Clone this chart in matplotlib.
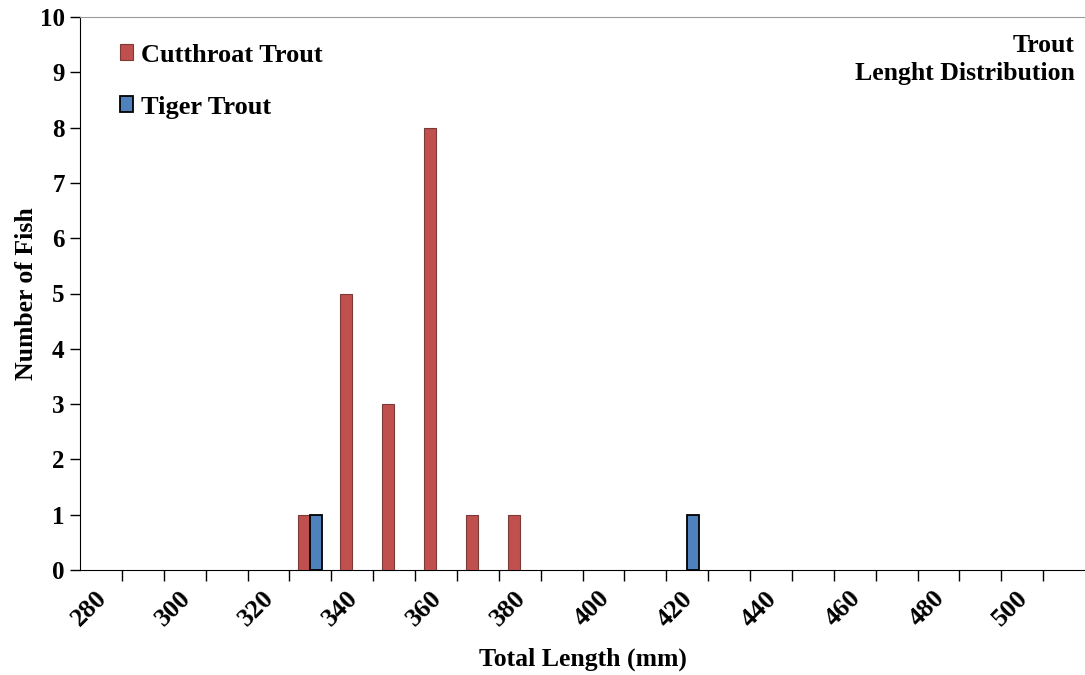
import matplotlib
matplotlib.use("Agg")
import matplotlib.pyplot as plt
import matplotlib.transforms as mtransforms
import numpy as np

categories = list(range(280, 520, 10))
cutthroat = [0, 0, 0, 0, 0, 1, 5, 3, 8, 1, 1, 0, 0, 0, 0, 0, 0, 0, 0, 0, 0, 0, 0, 0]
tiger     = [0, 0, 0, 0, 0, 1, 0, 0, 0, 0, 0, 0, 0, 0, 1, 0, 0, 0, 0, 0, 0, 0, 0, 0]
tick_labels = [str(c) if (c - 280) % 20 == 0 else "" for c in categories]

plt.rcParams['font.family'] = ['Liberation Serif', 'DejaVu Serif']
plt.rcParams['font.weight'] = 'bold'

fig = plt.figure(figsize=(10.85, 6.75), dpi=100)
ax = fig.add_axes([80/1085, 1 - 570/675, 1005/1085, (570-17)/675])

x = np.arange(len(categories)) + 0.5
w = 0.286
c = np.array(cutthroat)
t = np.array(tiger)
mc = c > 0
mt = t > 0
ax.bar((x - w/2)[mc], c[mc], width=w, color='#C0504D', edgecolor='#7a3a38', linewidth=0.8,
       label='Cutthroat Trout', zorder=3)
ax.bar((x + w/2)[mt], t[mt], width=w, color='#4F81BD', edgecolor='black', linewidth=1.3,
       label='Tiger Trout', zorder=3)

ax.set_xlim(0, len(categories))
ax.set_ylim(0, 10)
ax.set_yticks(range(0, 11))
ax.tick_params(axis='y', labelsize=18, length=7, width=1, direction='out', pad=4)

ax.set_xticks(np.arange(1, len(categories)))
ax.set_xticklabels([])
ax.tick_params(axis='x', which='major', length=8, width=1, direction='out')
ax.set_xticks(x, minor=True)
ax.set_xticklabels(tick_labels, minor=True, rotation=45, ha='right', va='top',
                   rotation_mode='anchor', fontsize=19)
ax.tick_params(axis='x', which='minor', length=0, pad=15)

offset = mtransforms.ScaledTranslation(-6/100, 4/100, fig.dpi_scale_trans)
for lab in ax.get_xticklabels(minor=True):
    lab.set_transform(lab.get_transform() + offset)
    lab.set_fontweight('bold')
for lab in ax.get_yticklabels():
    lab.set_fontweight('bold')

ax.spines['right'].set_visible(False)
ax.spines['top'].set_color('#9a9a9a')
ax.spines['left'].set_color('black')
ax.spines['bottom'].set_color('black')

ax.set_xlabel('Total Length (mm)', fontsize=18.5, fontweight='bold', labelpad=12)
ax.set_ylabel('Number of Fish', fontsize=18.5, fontweight='bold', labelpad=1)

leg = ax.legend(loc='upper left', bbox_to_anchor=(0.016, 0.995), frameon=False,
                prop={'size': 19, 'weight': 'bold'}, handlelength=0.5, handleheight=0.55,
                handletextpad=0.3, labelspacing=1.1)

ax.text(0.99, 0.97, 'Trout\nLenght Distribution', transform=ax.transAxes,
        ha='right', va='top', fontsize=18.5, fontweight='bold', linespacing=1.3)

fig.savefig('out.png', dpi=100)
